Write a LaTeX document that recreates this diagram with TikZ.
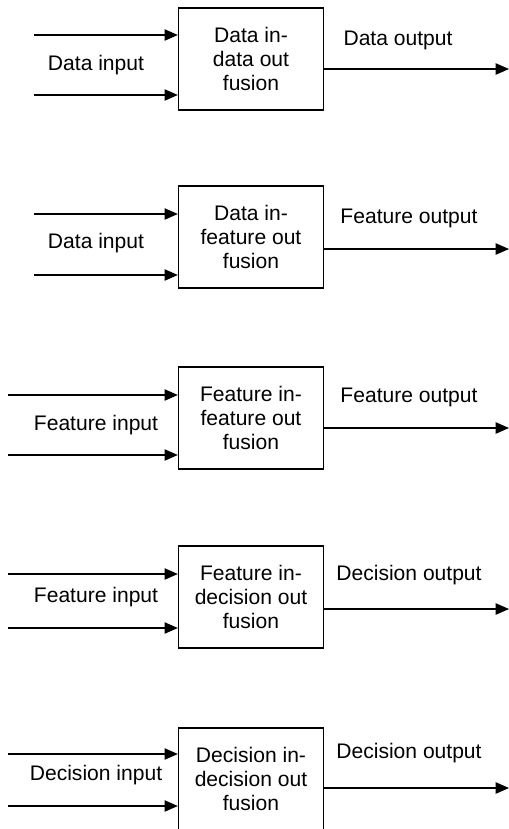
\documentclass[tikz,border=0pt]{standalone}
\usepackage{fontspec}
\setmainfont{Liberation Sans}
\usetikzlibrary{arrows.meta}
\usetikzlibrary{positioning}
\tikzset{fusebox/.style={draw, line width=1pt, minimum width=108.75pt, minimum height=76.5pt, align=center, inner sep=0pt, font=\fontsize{15.8}{18.3}\selectfont},
lbl/.style={inner sep=0pt, font=\fontsize{15.8}{18.3}\selectfont},
flow/.style={line width=1pt, -{Triangle[length=10pt,width=8.5pt]}}}

\begin{document}
\begin{tikzpicture}[x=0.75pt,y=-0.75pt]
\useasboundingbox (0,0) rectangle (509,829);

% one row per level of fusion
\foreach \n/\by/\ya/\yb/\yo/\xs/\yl/\xo/\yol/\inp/\outp/\txt in {
  1/10/35/95/69/34/65/398/40/Data input/Data output/{Data in-\\data out\\fusion},
  2/188/214/275/249/34/243/409/218/Data input/Feature output/{Data in-\\feature out\\fusion},
  3/369/395/455/428/8/425/409/397/Feature input/Feature output/{Feature in-\\feature out\\fusion},
  4/548/574/628/609/8/597/409/575/Feature input/Decision output/{Feature in-\\decision out\\fusion},
  5/730/754/806/788/8/775/409/753/Decision input/Decision output/{Decision in-\\decision out\\fusion}}
{
  \node[fusebox] (box\n) at (251,\by+49) {\txt};
  \coordinate (ina\n) at (\xs,\ya);
  \coordinate (inb\n) at (\xs,\yb);
  \coordinate (out\n) at (509,\yo);
  \draw[flow] (ina\n) -- (ina\n -| box\n.west);
  \draw[flow] (inb\n) -- (inb\n -| box\n.west);
  \draw[flow] (box\n.east |- out\n) -- (out\n);
  \node[lbl] (inlbl\n) at (96,\yl) {\inp};
  \node[lbl] (outlbl\n) at (\xo,\yol) {\outp};
}

\end{tikzpicture}
\end{document}
